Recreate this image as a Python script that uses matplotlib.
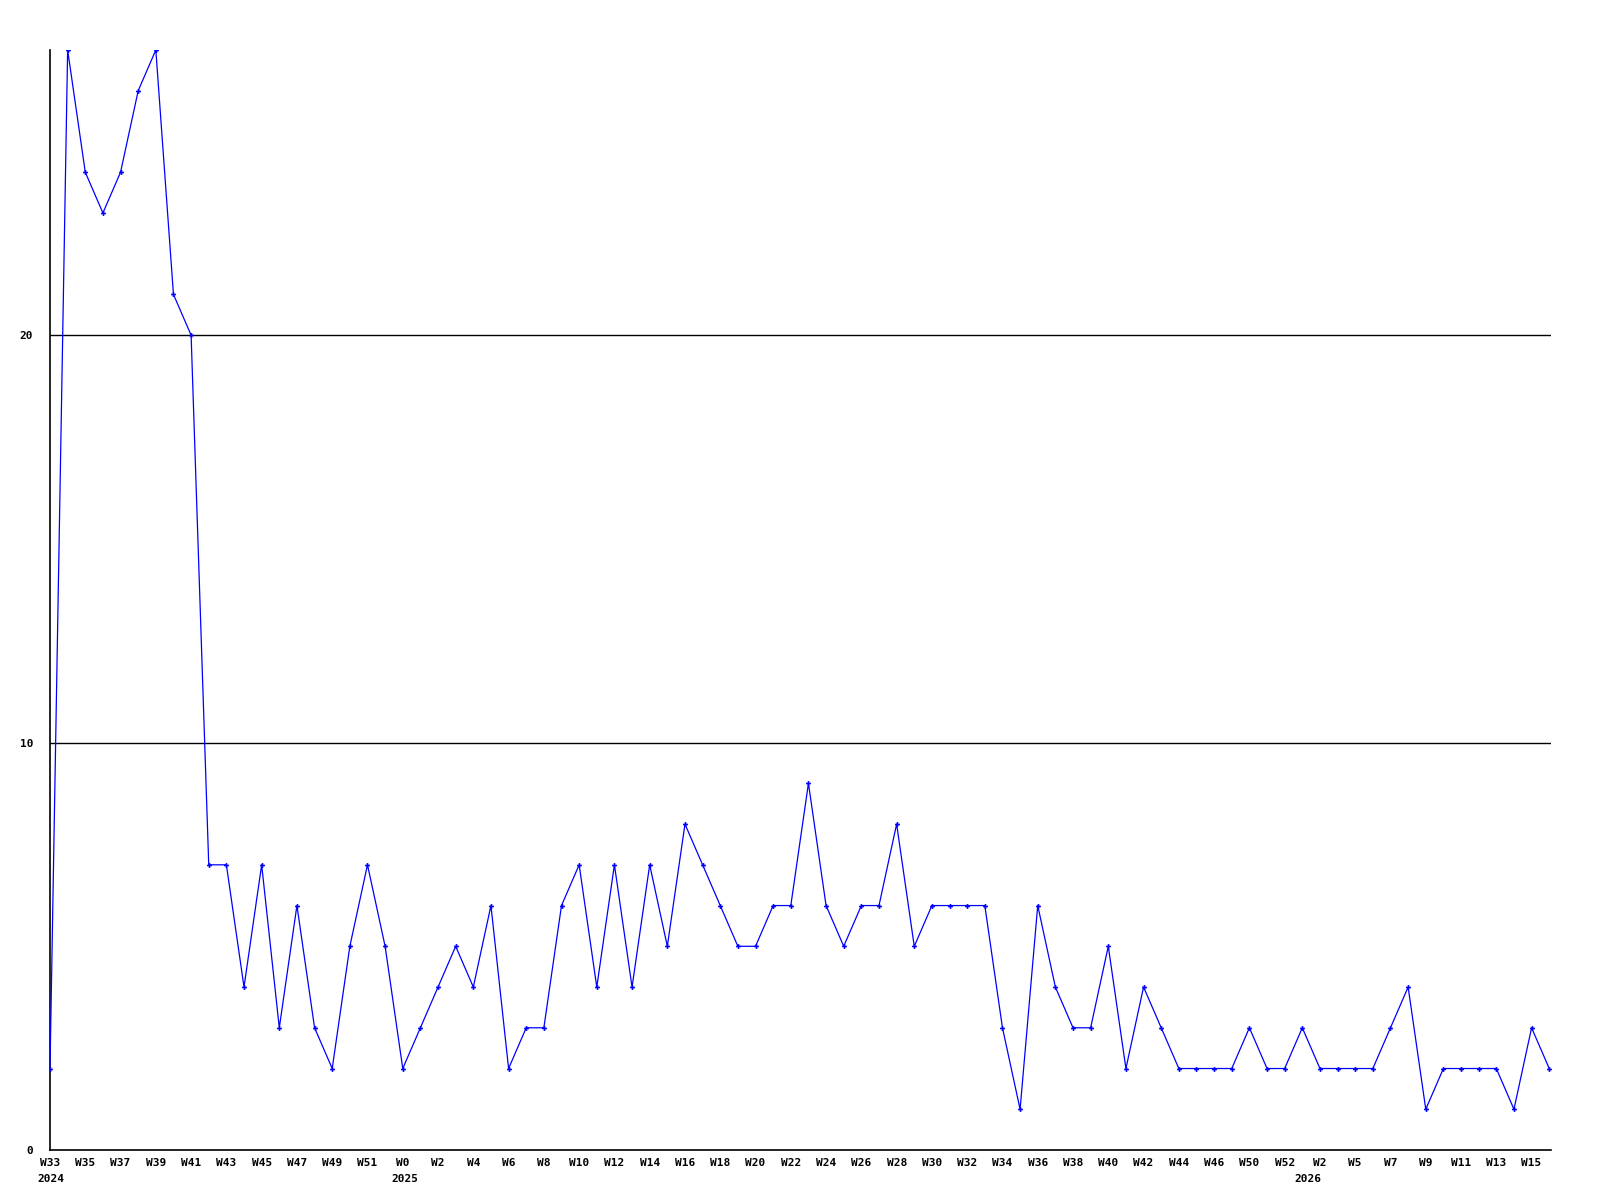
import numpy as np
import matplotlib
matplotlib.use('Agg')
import matplotlib.pyplot as plt

# weekly counts
values = [2, 27, 24, 23, 24, 26, 27, 21, 20, 7,
          7, 4, 7, 3, 6, 3, 2, 5, 7, 5,
          2, 3, 4, 5, 4, 6, 2, 3, 3, 6,
          7, 4, 7, 4, 7, 5, 8, 7, 6, 5,
          5, 6, 6, 9, 6, 5, 6, 6, 8, 5,
          6, 6, 6, 6, 3, 1, 6, 4, 3, 3,
          5, 2, 4, 3, 2, 2, 2, 2, 3, 2,
          2, 3, 2, 2, 2, 2, 3, 4, 1, 2,
          2, 2, 2, 1, 3, 2]

week_labels = ['W33', 'W35', 'W37', 'W39', 'W41', 'W43', 'W45', 'W47', 'W49', 'W51',
               'W0', 'W2', 'W4', 'W6', 'W8', 'W10', 'W12', 'W14', 'W16', 'W18',
               'W20', 'W22', 'W24', 'W26', 'W28', 'W30', 'W32', 'W34', 'W36', 'W38',
               'W40', 'W42', 'W44', 'W46', 'W50', 'W52', 'W2', 'W5', 'W7', 'W9',
               'W11', 'W13', 'W15']
year_labels = ['2024', '2025', '2026']
year_pos = [0.05, 20.1, 71.3]

x = np.arange(len(values))
tick_pos = x[::2]

plt.rcParams['font.family'] = 'DejaVu Sans Mono'

fig = plt.figure(figsize=(16, 12), dpi=100)
ax = fig.add_axes([50/1600, 1 - 1150/1200, (1551 - 50)/1600, 1100/1200])

for yv in [10, 20]:
    ax.axhline(yv, color='black', lw=1.0, zorder=1)

ax.plot(x, values, color='#0000ff', lw=0.9, marker='P', ms=3.5, mew=0, zorder=3)

ax.set_xlim(0, 85.1)
ax.set_ylim(0, 27)

for s in ['top', 'right']:
    ax.spines[s].set_visible(False)
for s in ['left', 'bottom']:
    ax.spines[s].set_linewidth(1.2)
    ax.spines[s].set_color('black')

ax.set_yticks([0, 10, 20])
ax.set_yticklabels(['0', '10', '20'], fontsize=8, fontweight='bold')
ax.tick_params(axis='y', length=0, pad=12)

ax.set_xticks(tick_pos)
ax.set_xticklabels(week_labels, fontsize=8, fontweight='bold')
ax.tick_params(axis='x', length=0, pad=6)

for p, t in zip(year_pos, year_labels):
    ax.annotate(t, xy=(p, 0), xycoords=('data', 'axes fraction'),
                xytext=(0, -17), textcoords='offset points',
                ha='center', va='top', fontsize=8, fontweight='bold')

fig.savefig('out.png', dpi=100)
